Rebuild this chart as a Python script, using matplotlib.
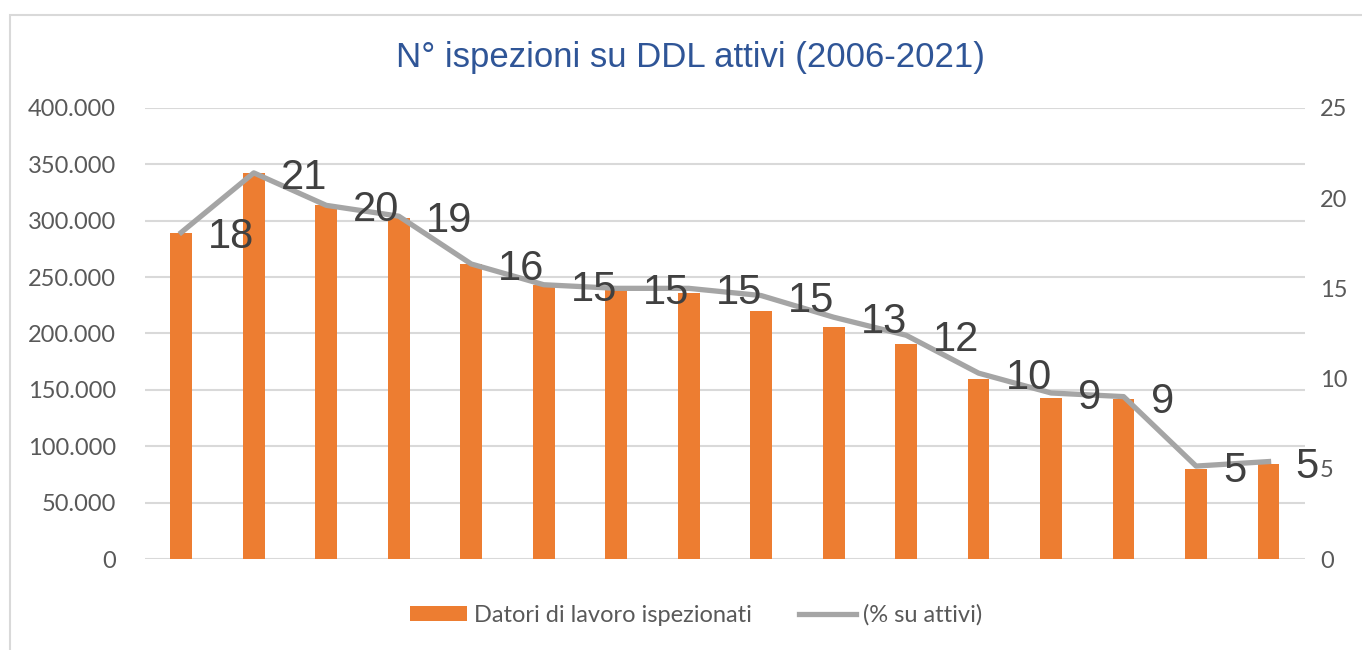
import matplotlib.pyplot as plt
from matplotlib.patches import Rectangle
from matplotlib.ticker import FuncFormatter

anni = [str(a) for a in range(2006, 2022)]
ispezionati = [289000, 342000, 314000, 302000, 262000, 243000, 240000, 236000,
               220000, 206000, 191000, 160000, 143000, 142000, 80000, 84000]
perc_attivi = [18.1, 21.4, 19.6, 19.0, 16.35, 15.2, 15.0, 15.0,
               14.6, 13.4, 12.4, 10.3, 9.2, 9.0, 5.15, 5.4]

arancio = '#ED7D31'
grigio = '#A5A5A5'
testo = '#595959'

fig = plt.figure(figsize=(13.62, 6.5), dpi=100)
ax = fig.add_axes([0.1065, 0.14, 0.8515, 0.694])
ax2 = ax.twinx()

x = list(range(len(anni)))
ax.bar(x, ispezionati, width=0.3, color=arancio, zorder=2, label='Datori di lavoro ispezionati')
ax2.plot(x, perc_attivi, color=grigio, linewidth=3.8, zorder=3, label='(% su attivi)')

for xi, v in zip(x, perc_attivi):
    ax2.annotate(f'{round(v):d}', (xi, v), xytext=(27, -5), textcoords='offset pixels',
                 ha='left', va='center', fontsize=30, color='#404040',
                 family='Liberation Sans', zorder=4)

ax.set_xlim(-0.5, len(anni) - 0.5)
ax.set_ylim(0, 400000)
ax2.set_ylim(0, 25)
ax.set_yticks(range(0, 400001, 50000))
ax2.set_yticks(range(0, 26, 5))
ax.yaxis.set_major_formatter(FuncFormatter(lambda v, p: f'{int(v):,}'.replace(',', '.')))
ax.set_xticks([])
ax.grid(axis='y', color='#D9D9D9', linewidth=1.5, zorder=0)
ax.set_axisbelow(True)

for a in (ax, ax2):
    for s in a.spines.values():
        s.set_visible(False)
    a.tick_params(axis='y', length=0, labelsize=17, labelcolor=testo, labelfontfamily='Lato')
ax.tick_params(axis='y', pad=21)
ax2.tick_params(axis='y', pad=11)

fig.text(0.507, 0.912, 'N° ispezioni su DDL attivi (2006-2021)', ha='center', va='center',
         fontsize=25, color='#2F5597', family='Liberation Sans')

h1, l1 = ax.get_legend_handles_labels()
h2, l2 = ax2.get_legend_handles_labels()
leg = fig.legend(h1 + h2, l1 + l2, loc='center', bbox_to_anchor=(0.511, 0.054), ncol=2,
                 frameon=False, handlelength=2.4, handleheight=0.6, handletextpad=0.3,
                 columnspacing=2.0, prop={'family': 'Lato', 'size': 17})
for t in leg.get_texts():
    t.set_color(testo)

fig.patches.append(Rectangle((0.0073, -0.1), 1.1, 1.077, transform=fig.transFigure,
                             fill=False, edgecolor='#D9D9D9', linewidth=1.5))

fig.savefig('out.png', dpi=100, facecolor='white')
